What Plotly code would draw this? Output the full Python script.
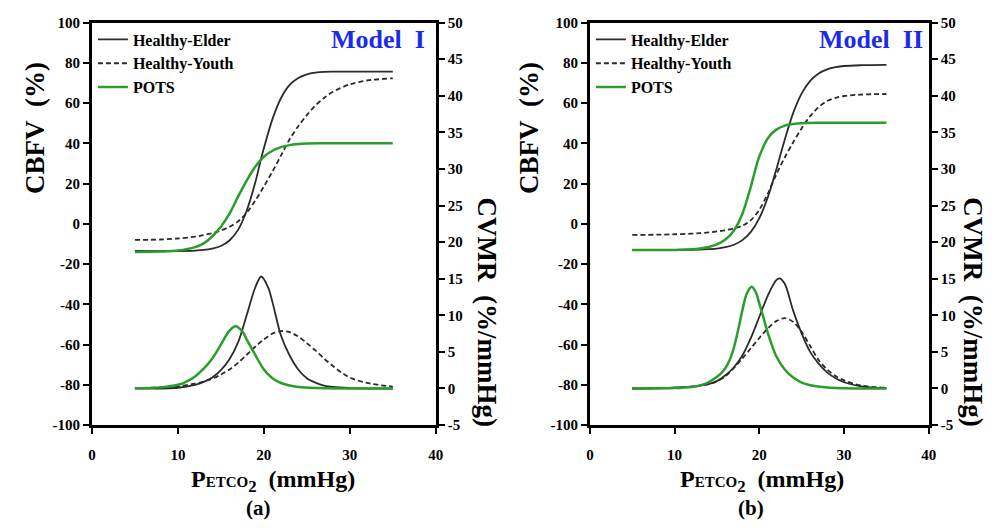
import plotly.graph_objects as go

# ---------------- data ----------------
series_names = ["Healthy-Elder", "Healthy-Youth", "POTS"]

# Panel (a) Model I  -- CBFV (%)
a_elder_cbfv_x = [5, 10, 12, 13, 14, 15, 16, 17, 18, 19, 19.6, 20, 21, 22, 23, 24, 25, 26, 27, 28, 30, 35]
a_elder_cbfv_y = [-13.5, -13.5, -13.3, -13.0, -12.3, -11.0, -8.3, -3.0, 6.5, 20.5, 31, 37.5, 52, 62.5, 69, 72.5, 74.3, 75.1, 75.5, 75.6, 75.6, 75.6]
a_youth_cbfv_x = [5, 8, 10, 12, 13, 14, 15, 16, 17, 18, 19, 20, 21, 22, 23, 24, 25, 26, 27, 28, 30, 32, 35]
a_youth_cbfv_y = [-8.0, -7.8, -7.3, -6.4, -5.6, -4.6, -3.3, -1.5, 1.2, 5.5, 11.5, 18.5, 26, 34, 42, 48.5, 54, 58.8, 62.5, 65.5, 69.3, 71.2, 72.3]
a_pots_cbfv_x = [5, 8, 10, 12, 13, 14, 15, 16, 17, 18, 19, 20, 21, 22, 23, 24, 25, 27, 30, 35]
a_pots_cbfv_y = [-14, -13.8, -13.3, -11.6, -9.7, -6.3, -1.5, 5.0, 13.5, 21.5, 28.3, 33.3, 36.3, 38.1, 39.1, 39.6, 39.9, 40, 40, 40]

# Panel (a) Model I  -- CVMR (%/mmHg)
a_elder_cvmr_x = [5, 10, 12, 13, 14, 15, 16, 17, 18, 19, 19.7, 20.5, 21, 22, 23, 24, 25, 26, 27, 28, 30, 35]
a_elder_cvmr_y = [0, 0.1, 0.5, 0.9, 1.5, 2.5, 4.0, 6.3, 10.0, 13.8, 15.3, 13.8, 11.8, 7.2, 4.5, 2.6, 1.4, 0.8, 0.4, 0.2, 0.05, 0]
a_youth_cvmr_x = [5, 8, 10, 12, 13, 14, 15, 16, 17, 18, 19, 20, 21, 22, 23, 24, 25, 26, 27, 28, 29, 30, 32, 35]
a_youth_cvmr_y = [0.05, 0.15, 0.3, 0.65, 0.95, 1.35, 1.9, 2.6, 3.5, 4.6, 5.7, 6.7, 7.5, 7.85, 7.7, 7.1, 6.2, 5.2, 4.1, 3.1, 2.2, 1.5, 0.75, 0.25]
a_pots_cvmr_x = [5, 8, 10, 11, 12, 13, 14, 15, 16, 16.7, 17.5, 18, 19, 20, 21, 22, 23, 24, 26, 30, 35]
a_pots_cvmr_y = [0.02, 0.15, 0.5, 0.95, 1.65, 2.7, 4.1, 6.0, 7.9, 8.5, 7.8, 6.7, 4.6, 2.6, 1.4, 0.75, 0.4, 0.2, 0.05, 0, 0]

# Panel (b) Model II -- CBFV (%)
b_elder_cbfv_x = [5, 10, 12, 13, 14, 15, 16, 17, 18, 19, 20, 21, 22, 22.4, 23, 24, 25, 26, 27, 28, 29, 30, 32, 35]
b_elder_cbfv_y = [-13, -13, -12.9, -12.8, -12.6, -12.3, -11.6, -10.4, -8.1, -4.0, 2.8, 13.2, 27.0, 33, 41.8, 55.1, 64.8, 71.0, 74.7, 76.7, 77.8, 78.4, 78.8, 79]
b_youth_cbfv_x = [5, 8, 10, 12, 13, 14, 15, 16, 17, 18, 19, 20, 21, 22, 23, 24, 25, 26, 27, 28, 29, 30, 32, 35]
b_youth_cbfv_y = [-5.5, -5.4, -5.2, -4.9, -4.6, -4.3, -3.8, -3.2, -2.2, -0.9, 1.8, 7, 15, 24.5, 33, 40.5, 47.5, 53.5, 58, 61, 62.6, 63.5, 64.2, 64.5]
b_pots_cbfv_x = [5, 10, 12, 13, 14, 15, 16, 17, 18, 19, 19.5, 20, 21, 22, 23, 24, 25, 27, 30, 35]
b_pots_cbfv_y = [-13, -13, -12.7, -12.3, -11.5, -10.2, -7.8, -3.3, 5.0, 18.5, 26.5, 33.5, 42.5, 46.8, 48.8, 49.6, 50, 50.2, 50.2, 50.2]

# Panel (b) Model II -- CVMR (%/mmHg)
b_elder_cvmr_x = [5, 10, 12, 13, 14, 15, 16, 17, 18, 19, 20, 21, 22, 22.4, 23, 24, 25, 26, 27, 28, 29, 30, 32, 35]
b_elder_cvmr_y = [0, 0.1, 0.25, 0.4, 0.6, 1.0, 1.8, 2.9, 4.5, 6.9, 9.8, 12.7, 14.8, 15.05, 14.3, 10.6, 7.5, 5.0, 3.4, 2.2, 1.4, 0.85, 0.3, 0.05]
b_youth_cvmr_x = [5, 10, 12, 13, 14, 15, 16, 17, 18, 19, 20, 21, 22, 23, 24, 25, 26, 27, 28, 29, 30, 32, 35]
b_youth_cvmr_y = [0, 0.1, 0.25, 0.4, 0.6, 1.0, 1.7, 2.8, 4.1, 5.5, 6.9, 8.2, 9.2, 9.6, 9.1, 7.7, 5.8, 3.9, 2.6, 1.7, 1.1, 0.4, 0.1]
b_pots_cvmr_x = [5, 10, 12, 13, 14, 15, 15.5, 16, 16.5, 17, 17.5, 18, 18.5, 19.1, 19.6, 20, 20.5, 21, 22, 23, 24, 25, 26, 28, 30, 35]
b_pots_cvmr_y = [0, 0.05, 0.2, 0.4, 0.85, 1.6, 2.1, 2.8, 3.9, 5.6, 8.0, 10.7, 12.9, 13.9, 13.1, 11.6, 9.6, 7.6, 4.4, 2.6, 1.5, 0.8, 0.45, 0.12, 0.03, 0]

x_ticks = [0, 10, 20, 30, 40]
left_ticks = [-100, -80, -60, -40, -20, 0, 20, 40, 60, 80, 100]
right_ticks = [-5, 0, 5, 10, 15, 20, 25, 30, 35, 40, 45, 50]

# ---------------- styling ----------------
W, H = 1002, 532
FONT = "Liberation Serif"
BLACK = "#2b2b2b"
GREEN = "#2a9d2a"
BLUE = "#1c2ce6"
styles = {
    "Healthy-Elder": dict(color=BLACK, width=1.8, dash="solid"),
    "Healthy-Youth": dict(color=BLACK, width=1.8, dash="5px,3px"),
    "POTS": dict(color=GREEN, width=2.5, dash="solid"),
}

def px_x(p):
    return p / W

def px_y(p):
    return 1 - p / H

def labels(vals):
    # bold labels with a plain hyphen-minus, as in the reference
    return ["<b>%s</b>" % v for v in vals]

fig = go.Figure()

panels = [
    dict(xa="x", yl="y", yr="y2", legend="legend",
         cbfv=[(a_elder_cbfv_x, a_elder_cbfv_y), (a_youth_cbfv_x, a_youth_cbfv_y), (a_pots_cbfv_x, a_pots_cbfv_y)],
         cvmr=[(a_elder_cvmr_x, a_elder_cvmr_y), (a_youth_cvmr_x, a_youth_cvmr_y), (a_pots_cvmr_x, a_pots_cvmr_y)]),
    dict(xa="x2", yl="y3", yr="y4", legend="legend2",
         cbfv=[(b_elder_cbfv_x, b_elder_cbfv_y), (b_youth_cbfv_x, b_youth_cbfv_y), (b_pots_cbfv_x, b_pots_cbfv_y)],
         cvmr=[(b_elder_cvmr_x, b_elder_cvmr_y), (b_youth_cvmr_x, b_youth_cvmr_y), (b_pots_cvmr_x, b_pots_cvmr_y)]),
]

for p in panels:
    for name, (xs, ys) in zip(series_names, p["cbfv"]):
        fig.add_trace(go.Scatter(x=xs, y=ys, mode="lines", name=name,
                                 line=dict(shape="spline", smoothing=0.9, **styles[name]),
                                 xaxis=p["xa"], yaxis=p["yl"], legend=p["legend"],
                                 showlegend=True))
    for name, (xs, ys) in zip(series_names, p["cvmr"]):
        fig.add_trace(go.Scatter(x=xs, y=ys, mode="lines", name=name,
                                 line=dict(shape="spline", smoothing=0.9, **styles[name]),
                                 xaxis=p["xa"], yaxis=p["yr"], legend=p["legend"],
                                 showlegend=False))

tickfont = dict(family=FONT, size=15, color="black", weight="bold")
common = dict(showline=True, linecolor="black", linewidth=3, ticks="outside",
              ticklen=6, tickwidth=2, tickcolor="black", showgrid=False,
              zeroline=False, tickfont=tickfont, fixedrange=True)

ydom = [px_y(430), px_y(15)]
legend_font = dict(family=FONT, size=16, color="black", weight="bold")
fig.update_layout(
    width=W, height=H, margin=dict(l=0, r=0, t=0, b=0),
    paper_bgcolor="white", plot_bgcolor="white",
    xaxis=dict(domain=[px_x(89), px_x(437)], range=[0, 40], tickvals=x_ticks,
               ticktext=labels(x_ticks), anchor="y", mirror=True, ticklabelstandoff=8, **common),
    yaxis=dict(domain=ydom, range=[-100, 100], tickvals=left_ticks,
               ticktext=labels(left_ticks), anchor="x", **common),
    yaxis2=dict(range=[-5, 50], tickvals=right_ticks, ticktext=labels(right_ticks),
                overlaying="y", side="right", anchor="x", **common),
    xaxis2=dict(domain=[px_x(593), px_x(936)], range=[0, 40], tickvals=x_ticks,
                ticktext=labels(x_ticks), anchor="y3", mirror=True, ticklabelstandoff=8, **common),
    yaxis3=dict(domain=ydom, range=[-100, 100], tickvals=left_ticks,
                ticktext=labels(left_ticks), anchor="x2", **common),
    yaxis4=dict(range=[-5, 50], tickvals=right_ticks, ticktext=labels(right_ticks),
                overlaying="y3", side="right", anchor="x2", **common),
    legend=dict(x=px_x(90), y=px_y(15), xanchor="left", yanchor="top",
                bgcolor="rgba(0,0,0,0)", borderwidth=0, tracegroupgap=0, itemwidth=30,
                font=legend_font),
    legend2=dict(x=px_x(594), y=px_y(15), xanchor="left", yanchor="top",
                 bgcolor="rgba(0,0,0,0)", borderwidth=0, tracegroupgap=0, itemwidth=30,
                 font=legend_font),
)

title_font = dict(family=FONT, size=27, color="black", weight="bold")
xtitle_font = dict(family=FONT, size=24, color="black", weight="bold")
NB = "\u00a0"
xtitle = ("P<span style='font-size:15px'>ETCO</span><sub>2</sub>" + NB + NB + "(mmHg)")
model_font = dict(family=FONT, size=26, color=BLUE, weight="bold")
small_font = dict(family=FONT, size=21, color="black", weight="bold")
annotations = [
    # panel a
    dict(x=px_x(32), y=px_y(124), text="CBFV" + NB + NB + "(%)", textangle=-90, font=title_font),
    dict(x=px_x(489), y=px_y(313), text="CVMR" + NB + NB + "(%/mmHg)", textangle=90, font=title_font),
    dict(x=px_x(272), y=px_y(488), text=xtitle, font=xtitle_font),
    dict(x=px_x(258), y=px_y(515), text="(a)", font=small_font),
    dict(x=px_x(379), y=px_y(32), text="Model" + NB + NB + "I", font=model_font),
    # panel b
    dict(x=px_x(532), y=px_y(124), text="CBFV" + NB + NB + "(%)", textangle=-90, font=title_font),
    dict(x=px_x(981), y=px_y(313), text="CVMR" + NB + NB + "(%/mmHg)", textangle=90, font=title_font),
    dict(x=px_x(767), y=px_y(488), text=xtitle, font=xtitle_font),
    dict(x=px_x(756), y=px_y(515), text="(b)", font=small_font),
    dict(x=px_x(878), y=px_y(32), text="Model" + NB + NB + "II", font=model_font),
]
for a in annotations:
    a.update(xref="paper", yref="paper", showarrow=False, xanchor="center", yanchor="middle")
fig.update_layout(annotations=annotations)

fig.write_html("out.html")
